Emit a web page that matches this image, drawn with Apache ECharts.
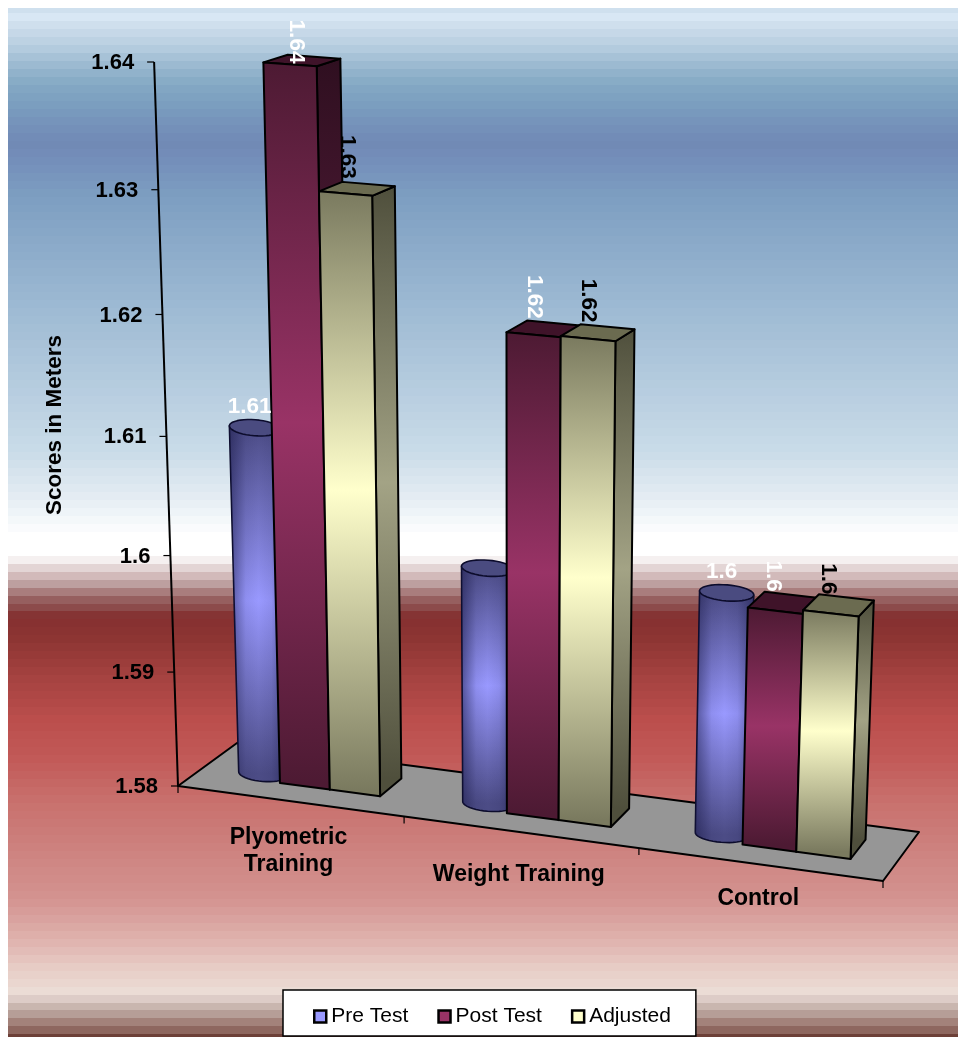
<!DOCTYPE html>
<html><head><meta charset="utf-8">
<style>html,body{margin:0;padding:0;background:#fff}#c{width:958px;height:1037px}</style>
<script src="https://cdn.jsdelivr.net/npm/echarts@6/dist/echarts.min.js"></script>
</head><body><div id="c"></div>
<script>
// ---- data ----
const categories = ['Plyometric\nTraining', 'Weight Training', 'Control'];
const preTest  = [1.6100, 1.6003, 1.6005];
const postTest = [1.6400, 1.6203, 1.6000];
const adjusted = [1.6302, 1.6204, 1.6003];
const yTicks = [1.58, 1.59, 1.6, 1.61, 1.62, 1.63, 1.64];
const yTickLabels = ['1.58', '1.59', '1.6', '1.61', '1.62', '1.63', '1.64'];
const seriesNames = ['Pre Test', 'Post Test', 'Adjusted'];
const yTitle = 'Scores in Meters';

// ---- camera: floor corners + vertical vanishing point ----
const FL = [[178,786],[883,881],[919,832],[237,743]]; // (u0,d0),(u3,d0),(u3,d1),(u0,d1)
const V = [515,11000], TOPY = 62;
const H = (function(){
  const [[x0,y0],[x1,y1],[x2,y2],[x3,y3]] = FL;
  const dx1=x1-x2,dx2=x3-x2,sx=x0-x1+x2-x3,dy1=y1-y2,dy2=y3-y2,sy=y0-y1+y2-y3;
  const den=dx1*dy2-dx2*dy1, g=(sx*dy2-dx2*sy)/den, h=(dx1*sy-sx*dy1)/den;
  return {a:x1-x0+g*x1,b:x3-x0+h*x3,c:x0,d:y1-y0+g*y1,e:y3-y0+h*y3,f:y0,g:g,h:h,k:(TOPY-y0)/(V[1]-TOPY)};
})();
function proj(u,hh,d){
  const s=u/3, k=H.k*hh;
  const w=H.g*s+H.h*d+1+k;
  return [(H.a*s+H.b*d+H.c+k*V[0])/w,(H.d*s+H.e*d+H.f+k*V[1])/w];
}
function uh(api,params,i,v){
  const p=api.coord([i,v]), cs=params.coordSys;
  return [(p[0]-cs.x)/cs.width*3,(cs.y+cs.height-p[1])/cs.height];
}
const LG=echarts.graphic.LinearGradient;
const FONT='"Liberation Sans",Arial,sans-serif';
const D0=0.32,D1=0.72,BW=0.223,BO=-0.3495;
const TXT={fontFamily:FONT,fontWeight:'bold'};
function poly(points,fill,stroke,lw){
  return {type:'polygon',shape:{points:points},style:{fill:fill,stroke:stroke||null,lineWidth:lw||0,lineJoin:'round'}};
}
function line(a,b,lw){return {type:'line',shape:{x1:a[0],y1:a[1],x2:b[0],y2:b[1]},style:{stroke:'#000',lineWidth:lw||2}};}
function vgrad(y0,y1,st){return new LG(0,y0,0,y1,[{offset:0,color:st[0]},{offset:.5,color:st[1]},{offset:1,color:st[0]}],true);}
function valLabel(x,y,v,color,rot){
  return {type:'text',x:x,y:y,rotation:rot?-Math.PI/2:0,z2:20,
    style:Object.assign({text:String(+v.toFixed(2)),fill:color,fontSize:22.5,align:'center',verticalAlign:'middle',x:0,y:0},TXT)};
}
// box-shaped bar
function barRender(slot,front,side,topC,labelColor,nudge){
  return function(params,api){
    const i=api.value(0),v=api.value(1),q=uh(api,params,i,v),h=q[1];
    const u0=q[0]+BO+slot*BW,u1=u0+BW;
    const a=proj(u0,h,D0),b=proj(u1,h,D0),c=proj(u1,0,D0),e=proj(u0,0,D0);
    const a2=proj(u0,h,D1),b2=proj(u1,h,D1),c2=proj(u1,0,D1);
    const n=nudge[i]||[0,0];
    const tc=proj(u0+BW/2,h,(D0+D1)/2);
    const len=String(+v.toFixed(2)).length*11;
    return {type:'group',children:[
      poly([b,b2,c2,c],vgrad(b2[1],c2[1],side),'#000',2),
      poly([a,a2,b2,b],topC,'#000',2),
      poly([a,b,c,e],vgrad(a[1],e[1],front),'#000',2),
      valLabel(tc[0]-10+n[0],tc[1]-10-len/2+n[1],v,labelColor,true)
    ]};
  };
}
// cylinder
function ellPt(cx,cy,rx,ry,th,t){
  const cs=Math.cos(t)*rx,sn=Math.sin(t)*ry;
  return [cx+cs*Math.cos(th)-sn*Math.sin(th),cy+cs*Math.sin(th)+sn*Math.cos(th)];
}
function arc(cx,cy,rx,ry,th,t0,t1,n){
  const pts=[];
  for(let j=0;j<=n;j++){ pts.push(ellPt(cx,cy,rx,ry,th,t0+(t1-t0)*j/n)); }
  return pts;
}
function cylRender(params,api){
  const i=api.value(0),v=api.value(1),q=uh(api,params,i,v),h=q[1];
  const uc=q[0]+BO+BW/2,dc=0.46;
  const t=proj(uc,h,dc),b=proj(uc,0,dc);
  const rxT=(proj(uc+BW/2,h,dc)[0]-proj(uc-BW/2,h,dc)[0])/2;
  const rxB=(proj(uc+BW/2,0,dc)[0]-proj(uc-BW/2,0,dc)[0])/2;
  const th=0.08,ry=8;
  const front=arc(b[0],b[1],rxB,ry,th,Math.PI,0,20);
  const capPts=arc(t[0],t[1],rxT,ry,th,0,Math.PI*2,40);
  const tl=ellPt(t[0],t[1],rxT,ry,th,Math.PI),tr=ellPt(t[0],t[1],rxT,ry,th,0);
  const body=front.concat([tr,tl]);
  const l=Math.min(tl[0],front[0][0]),r=Math.max(tr[0],front[20][0]);
  const over=new LG(l,0,r,0,[{offset:0,color:'rgba(25,25,70,.55)'},{offset:.28,color:'rgba(25,25,70,.08)'},{offset:.5,color:'rgba(25,25,70,0)'},{offset:.72,color:'rgba(25,25,70,.08)'},{offset:1,color:'rgba(25,25,70,.5)'}],true);
  return {type:'group',children:[
    poly(body,vgrad(t[1],b[1],['#4c4c86','#9999ff']),'#0c0c2c',1.6),
    poly(body,over),
    poly(capPts,'#4a4b80','#0c0c2c',1.6),
    valLabel(t[0]-5,t[1]-21,v,'#fff',false)
  ]};
}
function floorRender(params,api){
  const kids=[poly([proj(0,0,0),proj(3,0,0),proj(3,0,1),proj(0,0,1)],'#969696','#000',2)];
  kids.push(line(proj(0,1,0),proj(0,0,0),2));
  for(let j=0;j<=3;j++){
    const p=proj(j,0,0);
    kids.push(line(p,[p[0],p[1]+7],1.2));
  }
  const nudge=[23.5,29.5,21];
  categories.forEach(function(cat,j){
    const p=proj(j+.5,0,0);
    kids.push({type:'text',x:p[0]-1.5,y:p[1]+nudge[j],style:Object.assign({text:cat,fill:'#000',fontSize:23,lineHeight:27,align:'center',verticalAlign:'top'},TXT)});
  });
  kids.push({type:'text',x:55,y:425,rotation:Math.PI/2,style:Object.assign({text:yTitle,fill:'#000',fontSize:22.5,align:'center',verticalAlign:'middle',x:0,y:0},TXT)});
  return {type:'group',children:kids};
}
function tickRender(params,api){
  const v=api.value(1),q=uh(api,params,0,v),p=proj(0,q[1],0);
  return {type:'group',children:[
    line(p,[p[0]-7,p[1]],1.2),
    {type:'text',x:p[0]-20,y:p[1]+1,style:Object.assign({text:yTickLabels[params.dataIndex],fill:'#000',fontSize:22,align:'right',verticalAlign:'middle'},TXT)}
  ]};
}
// ---- banded background ----
const bgStops=[[13,'#dcebf7'],[29,'#cadbea'],[45,'#b8cfe1'],[60,'#a3bfd5'],[72,'#92b3cb'],[85,'#84a8c4'],[100,'#7ca1c0'],[120,'#7694bb'],[143,'#7189b5'],[165,'#7590bb'],[190,'#7b9cc0'],[300,'#9bb8d2'],[450,'#c9dbe8'],[500,'#e6eef4'],[535,'#ffffff'],[553,'#ffffff'],
 [561,'#f3eded'],[569,'#e0d0d0'],[577,'#cfb5b5'],[585,'#b99a9a'],[593,'#a67777'],[601,'#935a5a'],[609,'#8a4848'],[617,'#843030'],[640,'#8d3533'],[680,'#a64341'],[720,'#bb4e4c'],[760,'#c25a58'],[800,'#c8706c'],[850,'#cd827f'],[900,'#d49491'],[943,'#e0b5b0'],[967,'#e7ccc5'],[991,'#ebdcd5'],[999,'#dccbc6'],[1007,'#c8b5ae'],[1015,'#b59c95'],[1023,'#a28078'],[1031,'#8d655d'],[1037,'#6d4038']];
function hex(c){return [1,3,5].map(function(i){return parseInt(c.substr(i,2),16);});}
function colorAt(y){
  for(let i=1;i<bgStops.length;i++){
    if(y<=bgStops[i][0]){
      const a=bgStops[i-1],b=bgStops[i],t=Math.max(0,(y-a[0])/(b[0]-a[0])),ca=hex(a[1]),cb=hex(b[1]);
      return 'rgb('+ca.map(function(x,k){return Math.round(x+(cb[k]-x)*t);}).join(',')+')';
    }
  }
  return bgStops[bgStops.length-1][1];
}
const BGT=8,BGH=1037-8,bgColorStops=[{offset:0,color:'#cfe0ee'},{offset:(13-BGT)/BGH,color:'#cfe0ee'}];
for(let y=13;y<1037;y+=7.98){
  const col=colorAt(y+4),o0=(y-BGT)/BGH,o1=Math.min(1,(y+7.98-BGT)/BGH);
  bgColorStops.push({offset:o0,color:col},{offset:o1,color:col});
}

const chart=echarts.init(document.getElementById('c'),null,{renderer:'canvas'});
function toData(arr){return arr.map(function(v,i){return [i,v];});}
chart.setOption({
  animation:false,
  graphic:{elements:[{type:'rect',silent:true,shape:{x:8,y:BGT,width:950,height:BGH},style:{fill:new LG(0,BGT,0,1037,bgColorStops,true)}}]},
  grid:{left:100,right:100,top:100,bottom:100},
  xAxis:{type:'category',data:categories,show:false},
  yAxis:{type:'value',min:1.58,max:1.64,interval:0.01,show:false},
  tooltip:{show:false},
  legend:{
    data:seriesNames,left:283,top:990,padding:[16,25,9,30],itemGap:29,itemWidth:12,itemHeight:12,icon:'rect',
    backgroundColor:'#fff',borderColor:'#000',borderWidth:1.5,selectedMode:false,
    itemStyle:{borderColor:'#000',borderWidth:2.5},
    textStyle:{fontFamily:FONT,fontSize:21,color:'#000'}
  },
  series:[
    {type:'custom',name:'floor',silent:true,renderItem:floorRender,data:[[0,1.58]],encode:{x:0,y:1}},
    {type:'custom',name:'ticks',silent:true,renderItem:tickRender,data:yTicks.map(function(v){return [0,v];}),encode:{x:0,y:1}},
    {type:'custom',name:seriesNames[0],silent:true,renderItem:cylRender,data:toData(preTest),encode:{x:0,y:1},itemStyle:{color:'#9999ff'}},
    {type:'custom',name:seriesNames[1],silent:true,
      renderItem:barRender(1,['#4d1a33','#993366'],['#2f0f20','#5c1f3e'],'#3f1329','#fff',[[4,13],[0,0],[0,0]]),
      data:toData(postTest),encode:{x:0,y:1},itemStyle:{color:'#993366'}},
    {type:'custom',name:seriesNames[2],silent:true,
      renderItem:barRender(2,['#7a7a5f','#ffffcc'],['#4f4f3c','#a3a385'],'#6b6b50','#000',[[0,0],[0,0],[0,0]]),
      data:toData(adjusted),encode:{x:0,y:1},itemStyle:{color:'#ffffcc'}}
  ]
});
</script></body></html>
